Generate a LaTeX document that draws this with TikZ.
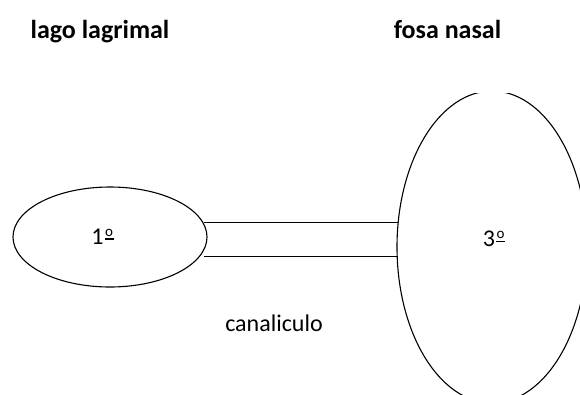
\documentclass[tikz,border=0pt]{standalone}
\usepackage{fontspec}
\setmainfont{Carlito}
\usetikzlibrary{shapes.geometric}
\newcommand\ordmark{\kern1.2pt\raisebox{4.3pt}{\vbox{\hbox{\kern0.6pt\fontsize{15}{15}\selectfont o\kern0.6pt}\kern2.3pt\hrule height 1.3pt}}}
\tikzset{
  outl/.style={draw=black, line width=1.1pt},
  oval/.style={outl, ellipse, inner sep=0pt},
  headlbl/.style={font=\fontsize{26}{28}\selectfont\bfseries, inner sep=0pt, anchor=base},
  numlbl/.style={font=\fontsize{24}{26}\selectfont, inner sep=0pt, anchor=base},
  smalllbl/.style={font=\fontsize{24}{26}\selectfont, inner sep=0pt, anchor=base},
}
\begin{document}
\begin{tikzpicture}[x=1pt,y=-1pt]
\useasboundingbox (0,0) rectangle (580,394);
\fill[white] (0,0) rectangle (580,394);
\node[headlbl] (lago) at (100,38) {lago lagrimal};
\node[headlbl] (fosa) at (447.5,38) {fosa nasal};
\node[oval, minimum width=194pt, minimum height=100pt] (left) at (110,237) {};
\begin{scope}
  \clip (0,93) rectangle (580,394);
  \node[oval, minimum width=190pt, minimum height=312pt] (right) at (492,247) {};
\end{scope}
\node[numlbl] (one) at (102.5,244) {1\ordmark};
\node[numlbl] (three) at (494,246.5) {3\ordmark};
\node[smalllbl] (can) at (274,331) {canaliculo};
\coordinate (a1) at (204,222.7);
\coordinate (b1) at (398,222.7);
\coordinate (a2) at (204,256.7);
\coordinate (b2) at (398,256.7);
\draw[outl] (a1) -- (b1);
\draw[outl] (a2) -- (b2);
\end{tikzpicture}
\end{document}
